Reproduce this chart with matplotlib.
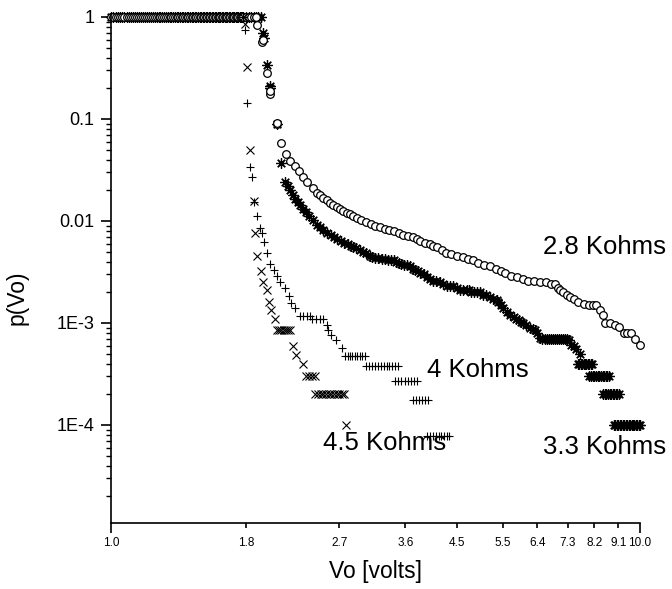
import matplotlib
matplotlib.use("Agg")
import matplotlib.pyplot as plt
from matplotlib.ticker import FixedLocator, FixedFormatter, LogLocator, NullFormatter

plt.rcParams['font.family'] = ['Liberation Sans', 'DejaVu Sans']

# plateau (p = 1) shared by all four resistances
plateau_v = [1.00, 1.01, 1.02, 1.03, 1.04, 1.05, 1.06, 1.07, 1.08, 1.09,
             1.10, 1.11, 1.12, 1.13, 1.14, 1.15, 1.16, 1.17, 1.18, 1.19,
             1.20, 1.21, 1.22, 1.23, 1.24, 1.25, 1.26, 1.27, 1.28, 1.29,
             1.30, 1.31, 1.32, 1.33, 1.34, 1.35, 1.36, 1.37, 1.38, 1.39,
             1.40, 1.41, 1.42, 1.43, 1.44, 1.45, 1.46, 1.47, 1.48, 1.49,
             1.50, 1.51, 1.52, 1.53, 1.54, 1.55, 1.56, 1.57, 1.58, 1.59,
             1.60, 1.61, 1.62, 1.63, 1.64, 1.65, 1.66, 1.67, 1.68, 1.69,
             1.70, 1.71, 1.72, 1.73, 1.74, 1.75, 1.76, 1.77]

# 2.8 Kohms (open circles)
v_28 = [1.78, 1.80, 1.82, 1.84, 1.86, 1.88, 1.89, 1.93, 1.94, 1.97, 2.00, 2.00,
        2.06, 2.06, 2.10, 2.14, 2.18, 2.23, 2.27, 2.31, 2.35, 2.41, 2.45, 2.48,
        2.52, 2.56, 2.59, 2.63, 2.67, 2.71, 2.75, 2.79, 2.83, 2.87, 2.92, 2.97,
        3.04, 3.10, 3.16, 3.22, 3.30, 3.36, 3.42, 3.50, 3.57, 3.65, 3.72, 3.78,
        3.84, 3.92, 4.00, 4.06, 4.13, 4.22, 4.30, 4.40, 4.50, 4.62, 4.72, 4.84,
        4.95, 5.08, 5.21, 5.35, 5.45, 5.56, 5.70, 5.85, 6.02, 6.15, 6.30, 6.48,
        6.65, 6.80, 6.91, 7.00, 7.06, 7.15, 7.27, 7.38, 7.49, 7.65, 7.83, 8.00,
        8.15, 8.27, 8.39, 8.51, 8.60, 8.77, 8.95, 9.14, 9.31, 9.45, 9.61, 9.78,
        10.0]
p_28 = [1, 1, 1, 1, 1, 1, 0.835, 0.57, 0.60, 0.28, 0.175, 0.19,
        0.089, 0.092, 0.0586, 0.045, 0.0387, 0.0348, 0.031, 0.0272, 0.0243, 0.0209, 0.0187, 0.018,
        0.0168, 0.016, 0.0149, 0.0142, 0.0136, 0.0130, 0.0125, 0.0119, 0.0116, 0.0113, 0.0108, 0.0103,
        0.0097, 0.0093, 0.0090, 0.0087, 0.0084, 0.0081, 0.0079, 0.0076, 0.0073, 0.0071, 0.0069, 0.0067,
        0.0064, 0.0061, 0.0059, 0.0057, 0.0056, 0.0052, 0.0049, 0.0047, 0.0045, 0.0044, 0.0042, 0.0041,
        0.0039, 0.0037, 0.0036, 0.0034, 0.0032, 0.0031, 0.0029, 0.0028, 0.0027, 0.0026, 0.0026, 0.0025,
        0.0025, 0.0024, 0.0024, 0.0022, 0.0021, 0.0020, 0.0019, 0.0018, 0.0017, 0.0016, 0.00153, 0.0015,
        0.0015, 0.0015, 0.00134, 0.0012, 0.00101, 0.0010, 0.00095, 0.00091, 0.00079, 0.00079, 0.00079, 0.00070,
        0.00061]

# 3.3 Kohms (asterisks)
v_33 = [1.78, 1.80, 1.82, 1.84, 1.86, 1.88, 1.90, 1.92, 1.94, 1.95, 1.97, 2.00, 2.00,
        2.06, 2.10, 2.13, 2.16, 2.18, 2.21, 2.23, 2.26, 2.28, 2.31, 2.34, 2.37, 2.41,
        2.45, 2.48, 2.52, 2.56, 2.60, 2.64, 2.67, 2.72, 2.76, 2.80, 2.84, 2.87,
        2.91, 2.95, 3.00, 3.04, 3.09, 3.12, 3.16, 3.20, 3.25, 3.30, 3.34, 3.38,
        3.42, 3.46, 3.50, 3.54, 3.58, 3.63, 3.67, 3.72, 3.76, 3.80, 3.84, 3.90,
        3.96, 4.01, 4.06, 4.12, 4.18, 4.24, 4.31, 4.37, 4.43, 4.50, 4.56, 4.63,
        4.70, 4.75, 4.80, 4.86, 4.92, 4.98, 5.05, 5.12, 5.20, 5.28, 5.36, 5.40,
        5.45, 5.52, 5.60, 5.68, 5.77, 5.84, 5.90, 5.96, 6.02, 6.10, 6.20, 6.27,
        6.34, 6.40, 6.48, 6.54, 6.60, 6.66, 6.72, 6.78, 6.84, 6.90, 6.96, 7.02,
        7.08, 7.14, 7.20, 7.27, 7.33, 7.40, 7.49, 7.58, 7.69,
        7.62, 7.67, 7.72, 7.77, 7.82, 7.87, 7.92, 7.97, 8.02, 8.07, 8.12,
        8.02, 8.08, 8.14, 8.20, 8.26, 8.32, 8.38, 8.44, 8.50, 8.56, 8.62, 8.68, 8.74,
        8.52, 8.58, 8.64, 8.70, 8.76, 8.82, 8.88, 8.94, 9.00, 9.06, 9.12,
        8.92, 8.98, 9.04, 9.10, 9.16, 9.22, 9.28, 9.34, 9.40, 9.46, 9.52,
        9.58, 9.64, 9.70, 9.76, 9.82, 9.88, 9.94, 10.0]
p_33 = [1, 1, 1, 1, 1, 1, 1, 1, 0.69, 0.62, 0.34, 0.21, 0.20,
        0.089, 0.0367, 0.0243, 0.022, 0.0201, 0.018, 0.0165, 0.0153, 0.0143, 0.0132, 0.0123, 0.0112, 0.0102,
        0.0092, 0.0088, 0.0082, 0.0077, 0.0073, 0.0070, 0.0067, 0.0063, 0.0061, 0.0059, 0.0057, 0.0056,
        0.0054, 0.0052, 0.0050, 0.0048, 0.0045, 0.0044, 0.0043, 0.0043, 0.0042, 0.0042, 0.0041, 0.0041,
        0.0041, 0.0040, 0.0039, 0.0038, 0.0037, 0.0037, 0.0036, 0.0034, 0.0033, 0.0032, 0.0031, 0.0030,
        0.0028, 0.0027, 0.0026, 0.0026, 0.0025, 0.0024, 0.0023, 0.0023, 0.0023, 0.0022, 0.0021, 0.0021,
        0.0021, 0.0021, 0.0020, 0.0020, 0.0020, 0.0020, 0.0019, 0.0019, 0.0018, 0.0017, 0.00168, 0.0016,
        0.0015, 0.0014, 0.00129, 0.0012, 0.00115, 0.0011, 0.00107, 0.00103, 0.00099, 0.00095, 0.00090, 0.00088,
        0.00085, 0.00080, 0.00071, 0.0007, 0.0007, 0.0007, 0.0007, 0.0007, 0.0007, 0.0007, 0.0007, 0.0007,
        0.0007, 0.0007, 0.0007, 0.0007, 0.00068, 0.00061, 0.00059, 0.00055, 0.0005,
        0.0004, 0.0004, 0.0004, 0.0004, 0.0004, 0.0004, 0.0004, 0.0004, 0.0004, 0.0004, 0.0004,
        0.0003, 0.0003, 0.0003, 0.0003, 0.0003, 0.0003, 0.0003, 0.0003, 0.0003, 0.0003, 0.0003, 0.0003, 0.0003,
        0.0002, 0.0002, 0.0002, 0.0002, 0.0002, 0.0002, 0.0002, 0.0002, 0.0002, 0.0002, 0.0002,
        0.0001, 0.0001, 0.0001, 0.0001, 0.0001, 0.0001, 0.0001, 0.0001, 0.0001, 0.0001, 0.0001,
        0.0001, 0.0001, 0.0001, 0.0001, 0.0001, 0.0001, 0.0001, 0.0001]

# 4 Kohms (plus)
v_4 = [1.78, 1.79, 1.81, 1.83, 1.85, 1.86, 1.89, 1.91, 1.93, 1.95, 1.97, 2.00,
       2.03, 2.06, 2.09, 2.13, 2.17, 2.19, 2.23, 2.28, 2.31, 2.35, 2.38, 2.40,
       2.44, 2.48, 2.52, 2.56, 2.57, 2.61, 2.66, 2.73,
       2.77, 2.80, 2.83, 2.86, 2.89, 2.92, 2.95, 2.98, 3.02,
       3.04, 3.08, 3.12, 3.16, 3.20, 3.24, 3.28, 3.32, 3.36, 3.40, 3.44, 3.48,
       3.44, 3.49, 3.54, 3.59, 3.64, 3.69, 3.74, 3.78,
       3.72, 3.77, 3.82, 3.87, 3.92, 3.97,
       3.96, 4.01, 4.06, 4.11, 4.16, 4.21, 4.26, 4.31, 4.36]
p_4 = [1, 0.746, 0.143, 0.034, 0.027, 0.0155, 0.0113, 0.0085, 0.0076, 0.0062, 0.0049, 0.0038,
       0.0033, 0.0029, 0.0025, 0.0022, 0.00185, 0.00156, 0.00139, 0.00117, 0.00117, 0.00117, 0.00117, 0.00109,
       0.00109, 0.00109, 0.00109, 0.00096, 0.00086, 0.00076, 0.00068, 0.00057,
       4.75e-4, 4.75e-4, 4.75e-4, 4.75e-4, 4.75e-4, 4.75e-4, 4.75e-4, 4.75e-4, 4.75e-4,
       3.8e-4, 3.8e-4, 3.8e-4, 3.8e-4, 3.8e-4, 3.8e-4, 3.8e-4, 3.8e-4, 3.8e-4, 3.8e-4, 3.8e-4, 3.8e-4,
       2.7e-4, 2.7e-4, 2.7e-4, 2.7e-4, 2.7e-4, 2.7e-4, 2.7e-4, 2.7e-4,
       1.76e-4, 1.76e-4, 1.76e-4, 1.76e-4, 1.76e-4, 1.76e-4,
       7.8e-5, 7.8e-5, 7.8e-5, 7.8e-5, 7.8e-5, 7.8e-5, 7.8e-5, 7.8e-5, 7.8e-5]

# 4.5 Kohms (cross)
v_45 = [1.78, 1.79, 1.81, 1.83, 1.86, 1.87, 1.89, 1.92, 1.94, 1.97, 1.99, 2.01, 2.04,
        2.06, 2.08, 2.10, 2.12, 2.14, 2.16, 2.18, 2.21, 2.24, 2.31,
        2.34, 2.37, 2.40, 2.43,
        2.43, 2.46, 2.49, 2.52, 2.55, 2.58, 2.61, 2.64, 2.67, 2.70, 2.73, 2.76, 2.78]
p_45 = [1, 0.85, 0.326, 0.0497, 0.0158, 0.0076, 0.0045, 0.0032, 0.0025, 0.0021, 0.00162, 0.00135, 0.0011,
        8.6e-4, 8.6e-4, 8.6e-4, 8.6e-4, 8.6e-4, 8.6e-4, 8.6e-4, 5.95e-4, 4.9e-4, 3.96e-4,
        3.0e-4, 3.0e-4, 3.0e-4, 3.0e-4,
        2.0e-4, 2.0e-4, 2.0e-4, 2.0e-4, 2.0e-4, 2.0e-4, 2.0e-4, 2.0e-4, 2.0e-4, 2.0e-4, 2.0e-4, 2.0e-4, 1.0e-4]

x_ticks = [1.0, 1.8, 2.7, 3.6, 4.5, 5.5, 6.4, 7.3, 8.2, 9.1, 10.0]
x_ticklabels = ['1.0', '1.8', '2.7', '3.6', '4.5', '5.5', '6.4', '7.3', '8.2', '9.1', '10.0']
y_ticks = [1, 0.1, 0.01, 1e-3, 1e-4]
y_ticklabels = ['1', '0.1', '0.01', '1E-3', '1E-4']

labels = ['2.8 Kohms', '3.3 Kohms', '4 Kohms', '4.5 Kohms']
label_pos = [(6.56, 5.6e-3), (6.56, 6.1e-5), (3.96, 3.46e-4), (2.52, 6.7e-5)]

fig = plt.figure(figsize=(6.72, 5.89), dpi=100)
ax = fig.add_axes([0.1652, 0.1121, 0.7872, 0.8642])
ax.set_xscale('log')
ax.set_yscale('log')

pv = plateau_v
ax.plot(pv, [1] * len(pv), 'x', color='k', ms=5, mew=0.8, clip_on=False)
ax.plot(pv, [1] * len(pv), '+', color='k', ms=5, mew=0.8, clip_on=False)
ax.plot(pv + v_33, [1] * len(pv) + p_33, ls='none', marker=(8, 2, 0), color='k',
        ms=7.5, mew=0.9, clip_on=False)
ax.plot(pv + v_28, [1] * len(pv) + p_28, 'o', mfc='white', mec='k', ms=5.5,
        mew=0.9, clip_on=False)
ax.plot(v_4, p_4, '+', color='k', ms=5.5, mew=0.8, clip_on=False)
ax.plot(v_45, p_45, 'x', color='k', ms=5.5, mew=0.8, clip_on=False)

ax.set_xlim(1.0, 10.0)
ax.set_ylim(1.094e-5, 1.07)

for s in ['top', 'right']:
    ax.spines[s].set_visible(False)
for s in ['left', 'bottom']:
    ax.spines[s].set_linewidth(1.2)

# x: end ticks long, inner ticks short
ax.xaxis.set_major_locator(FixedLocator([1.0, 10.0]))
ax.xaxis.set_major_formatter(FixedFormatter(['1.0', '10.0']))
ax.xaxis.set_minor_locator(FixedLocator(x_ticks[1:-1]))
ax.xaxis.set_minor_formatter(FixedFormatter(x_ticklabels[1:-1]))
ax.tick_params(axis='x', which='major', direction='out', length=7, width=1.2,
               labelsize=8.5, pad=3)
ax.tick_params(axis='x', which='minor', direction='out', length=3.5, width=1.2,
               labelsize=8.5, pad=6.5)

ax.yaxis.set_major_locator(FixedLocator(y_ticks))
ax.yaxis.set_major_formatter(FixedFormatter(y_ticklabels))
ax.yaxis.set_minor_locator(LogLocator(base=10, subs=range(2, 10)))
ax.yaxis.set_minor_formatter(NullFormatter())
ax.tick_params(axis='y', which='major', direction='out', length=7, width=1.2,
               labelsize=13, pad=5)
ax.tick_params(axis='y', which='minor', direction='out', length=3.5, width=1.0)

ax.set_xlabel('Vo [volts]', fontsize=16.5, labelpad=8)
ax.set_ylabel('p(Vo)', fontsize=16.5)
ax.yaxis.set_label_coords(-0.155, 0.442)

for lab, (lx, ly) in zip(labels, label_pos):
    ax.text(lx, ly, lab, fontsize=18.5, ha='left', va='center')

fig.savefig('out.png', dpi=100)
